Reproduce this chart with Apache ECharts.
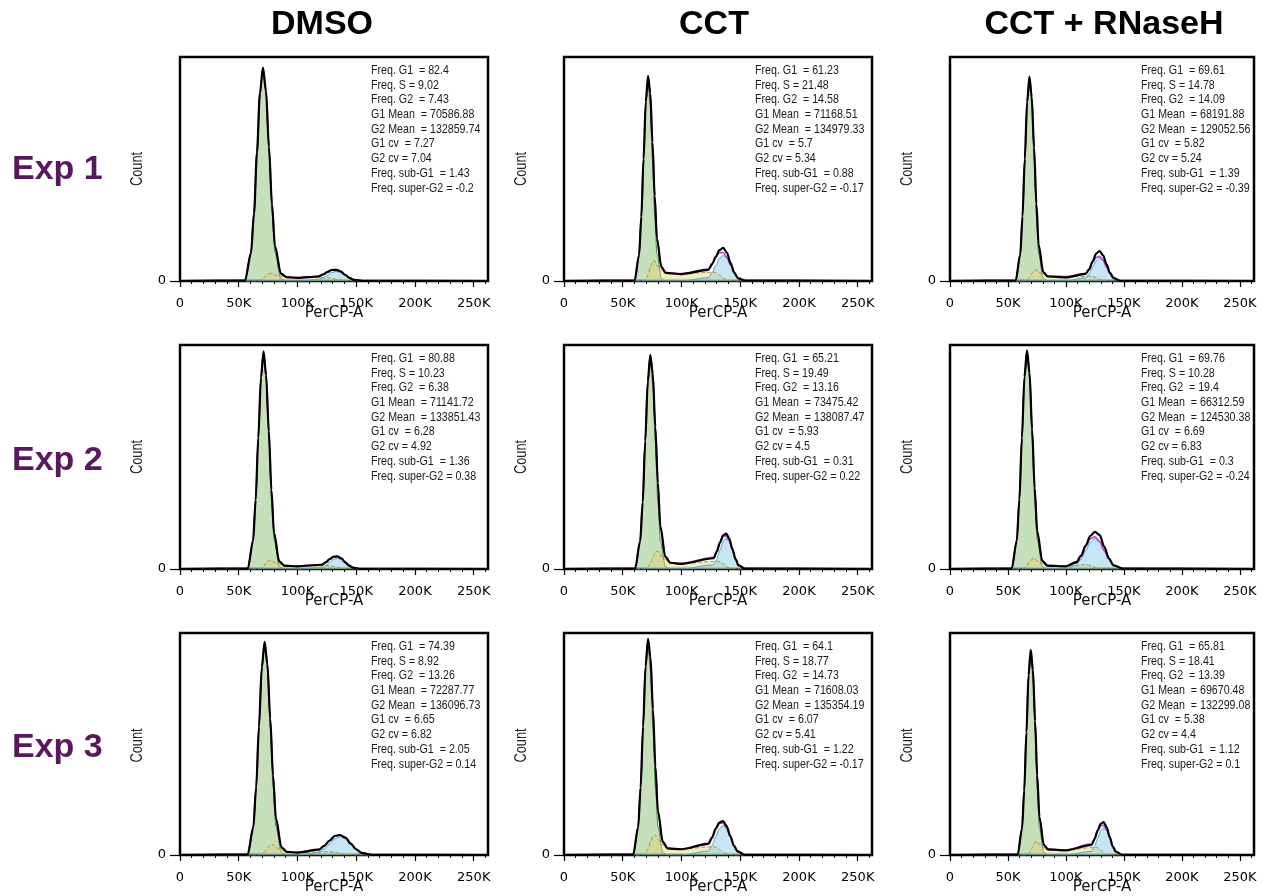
<!DOCTYPE html>
<html><head><meta charset="utf-8">
<script src="https://cdn.jsdelivr.net/npm/echarts@6/dist/echarts.min.js"></script>
<style>html,body{margin:0;padding:0;background:#fff}#c{width:1265px;height:896px}</style>
</head><body><div id="c"></div>
<script>
// ---------- labels ----------
const COL_TITLES = ['DMSO', 'CCT', 'CCT + RNaseH'];
const ROW_LABELS = ['Exp 1', 'Exp 2', 'Exp 3'];
const X_TICKS = [0, 50, 100, 150, 200, 250];   // PerCP-A, in K
const X_MAX = 262.144;
const STAT_NAMES = ['Freq. G1  = ', 'Freq. S = ', 'Freq. G2  = ', 'G1 Mean  = ', 'G2 Mean  = ', 'G1 cv  = ', 'G2 cv = ', 'Freq. sub-G1  = ', 'Freq. super-G2 = '];

// ---------- stats ----------
const STATS_R1C1 = ['82.4', '9.02', '7.43', '70586.88', '132859.74', '7.27', '7.04', '1.43', '-0.2'];
const STATS_R1C2 = ['61.23', '21.48', '14.58', '71168.51', '134979.33', '5.7', '5.34', '0.88', '-0.17'];
const STATS_R1C3 = ['69.61', '14.78', '14.09', '68191.88', '129052.56', '5.82', '5.24', '1.39', '-0.39'];
const STATS_R2C1 = ['80.88', '10.23', '6.38', '71141.72', '133851.43', '6.28', '4.92', '1.36', '0.38'];
const STATS_R2C2 = ['65.21', '19.49', '13.16', '73475.42', '138087.47', '5.93', '4.5', '0.31', '0.22'];
const STATS_R2C3 = ['69.76', '10.28', '19.4', '66312.59', '124530.38', '6.69', '6.83', '0.3', '-0.24'];
const STATS_R3C1 = ['74.39', '8.92', '13.26', '72287.77', '136096.73', '6.65', '6.82', '2.05', '0.14'];
const STATS_R3C2 = ['64.1', '18.77', '14.73', '71608.03', '135354.19', '6.07', '5.41', '1.22', '-0.17'];
const STATS_R3C3 = ['65.81', '18.41', '13.39', '69670.48', '132299.08', '5.38', '4.4', '1.12', '0.1'];

// ---------- histogram curves (x in K, y in % of panel height) ----------
const X_R1C1 = [0, 55.3, 60.4, 63.0, 65.5, 68.0, 70.6, 73.2, 75.7, 78.3, 80.8, 85.9, 91.0, 100, 117.9, 121.7, 125.4, 129.2, 132.9, 136.7, 140.4, 144.2, 147.9, 155.4, 262];
const G1_R1C1 = [0, 0.2, 12.7, 30.5, 57.0, 83.0, 94.0, 83.0, 57.0, 30.5, 12.7, 1.0, 0, 0, 0, 0, 0, 0, 0, 0, 0, 0, 0, 0, 0];
const S_R1C1 = [0, 0, 0, 0, 0, 0.4, 1.1, 2.3, 3.3, 3.5, 2.6, 2.1, 1.6, 1.5, 1.5, 1.5, 1.5, 1.2, 0.8, 0.4, 0.2, 0, 0, 0, 0];
const G2_R1C1 = [0, 0, 0, 0, 0, 0, 0, 0, 0, 0, 0, 0, 0, 0, 0.6, 1.4, 2.6, 3.8, 4.3, 3.8, 2.6, 1.4, 0.6, 0.1, 0];
const FIT_R1C1 = [0, 0.2, 12.7, 30.5, 57.0, 83.4, 95.1, 85.3, 60.3, 34.0, 15.3, 3.1, 1.6, 1.5, 2.1, 2.9, 4.1, 5.0, 5.1, 4.2, 2.8, 1.4, 0.6, 0.1, 0];
const DATA_R1C1 = [0, 0.2, 12.3, 30.2, 57.4, 83.9, 95.3, 85.0, 59.9, 34.3, 15.6, 3.3, 1.7, 1.4, 2.0, 2.9, 4.0, 4.9, 5.0, 4.3, 2.8, 1.4, 0.5, 0.1, 0];

const X_R1C2 = [0, 60.1, 63.9, 65.8, 67.7, 69.6, 71.5, 73.4, 75.3, 77.2, 79.1, 82.9, 86.7, 100, 122.9, 126.0, 129.2, 132.3, 135.5, 138.7, 141.8, 145.0, 148.1, 154.4, 262];
const G1_R1C2 = [0, 0.2, 12.0, 28.9, 54.0, 78.5, 89.0, 78.5, 54.0, 28.9, 12.0, 1.0, 0, 0, 0, 0, 0, 0, 0, 0, 0, 0, 0, 0, 0];
const S_R1C2 = [0, 0, 0, 0, 0, 0.9, 2.7, 5.9, 8.6, 9.0, 6.8, 5.0, 3.5, 3.3, 3.8, 4.0, 3.8, 2.6, 1.2, 0.5, 0.2, 0, 0, 0, 0];
const G2_R1C2 = [0, 0, 0, 0, 0, 0, 0, 0, 0, 0, 0, 0, 0, 0, 1.5, 3.7, 6.9, 10.1, 11.4, 10.1, 6.9, 3.7, 1.5, 0.1, 0];
const FIT_R1C2 = [0, 0.2, 12.0, 28.9, 54.0, 79.4, 91.7, 84.4, 62.6, 37.9, 18.8, 6.0, 3.5, 3.3, 5.3, 7.7, 10.7, 12.7, 12.6, 10.6, 7.1, 3.7, 1.5, 0.1, 0];
const DATA_R1C2 = [0, 0.2, 11.5, 28.5, 54.5, 80.0, 91.5, 84.0, 62.0, 38.0, 19.0, 6.2, 3.6, 3.1, 5.0, 7.5, 10.8, 13.8, 14.8, 12.6, 8.0, 3.6, 1.2, 0.2, 0];

const X_R1C3 = [0, 56.6, 60.6, 62.5, 64.5, 66.5, 68.5, 70.5, 72.5, 74.5, 76.4, 80.4, 84.4, 100, 117.0, 120.0, 123.0, 126.0, 129.0, 132.0, 135.0, 138.0, 141.0, 147.0, 262];
const G1_R1C3 = [0, 0.2, 12.1, 29.1, 54.3, 79.0, 89.5, 79.0, 54.3, 29.1, 12.1, 1.0, 0, 0, 0, 0, 0, 0, 0, 0, 0, 0, 0, 0, 0];
const S_R1C3 = [0, 0, 0, 0, 0, 0.5, 1.5, 3.3, 4.8, 5.0, 3.8, 2.9, 2.1, 2.0, 2.0, 2.2, 2.1, 1.5, 0.8, 0.3, 0.1, 0, 0, 0, 0];
const G2_R1C3 = [0, 0, 0, 0, 0, 0, 0, 0, 0, 0, 0, 0, 0, 0, 1.4, 3.3, 6.2, 9.0, 10.2, 9.0, 6.2, 3.3, 1.4, 0.1, 0];
const FIT_R1C3 = [0, 0.2, 12.1, 29.1, 54.3, 79.5, 91.0, 82.3, 59.1, 34.1, 15.9, 3.9, 2.1, 2.0, 3.4, 5.5, 8.3, 10.5, 11.0, 9.3, 6.3, 3.3, 1.4, 0.1, 0];
const DATA_R1C3 = [0, 0.2, 11.8, 28.8, 54.6, 80.0, 91.2, 82.0, 59.5, 34.5, 16.2, 4.0, 2.0, 1.6, 3.2, 5.2, 8.8, 12.2, 13.4, 11.5, 7.4, 3.6, 1.3, 0.1, 0];

const X_R2C1 = [0, 57.7, 62.2, 64.4, 66.6, 68.9, 71.1, 73.3, 75.6, 77.8, 80.0, 84.5, 89.0, 100, 120.8, 124.1, 127.4, 130.7, 134.0, 137.3, 140.6, 143.9, 147.2, 153.8, 262];
const G1_R2C1 = [0, 0.2, 13.0, 31.1, 58.1, 84.5, 95.8, 84.5, 58.1, 31.1, 13.0, 1.1, 0, 0, 0, 0, 0, 0, 0, 0, 0, 0, 0, 0, 0];
const S_R2C1 = [0, 0, 0, 0, 0, 0.4, 1.2, 2.6, 3.8, 4.0, 3.0, 2.1, 1.4, 1.3, 1.4, 1.5, 1.5, 1.2, 0.8, 0.4, 0.2, 0, 0, 0, 0];
const G2_R2C1 = [0, 0, 0, 0, 0, 0, 0, 0, 0, 0, 0, 0, 0, 0, 0.6, 1.6, 2.9, 4.2, 4.8, 4.2, 2.9, 1.6, 0.6, 0.1, 0];
const FIT_R2C1 = [0, 0.2, 13.0, 31.1, 58.1, 84.9, 97.0, 87.1, 61.9, 35.1, 16.0, 3.2, 1.4, 1.3, 2.0, 3.1, 4.4, 5.4, 5.6, 4.6, 3.1, 1.6, 0.6, 0.1, 0];
const DATA_R2C1 = [0, 0.2, 12.6, 30.8, 58.5, 85.5, 97.2, 86.5, 61.5, 35.4, 16.2, 3.4, 1.5, 1.2, 1.9, 3.0, 4.4, 5.5, 5.6, 4.7, 3.0, 1.5, 0.6, 0.1, 0];

const X_R2C2 = [0, 60.5, 64.8, 67.0, 69.1, 71.3, 73.4, 75.6, 77.7, 79.9, 82.0, 86.3, 90.6, 100, 127.4, 130.1, 132.7, 135.4, 138.0, 140.7, 143.3, 146.0, 148.6, 153.9, 262];
const G1_R2C2 = [0, 0.2, 12.6, 30.2, 56.5, 82.2, 93.1, 82.2, 56.5, 30.2, 12.6, 1.0, 0, 0, 0, 0, 0, 0, 0, 0, 0, 0, 0, 0, 0];
const S_R2C2 = [0, 0, 0, 0, 0, 0.8, 2.4, 5.2, 7.6, 8.0, 6.0, 4.2, 2.7, 2.5, 3.3, 3.5, 3.3, 2.3, 1.1, 0.5, 0.2, 0, 0, 0, 0];
const G2_R2C2 = [0, 0, 0, 0, 0, 0, 0, 0, 0, 0, 0, 0, 0, 0, 1.9, 4.5, 8.4, 12.2, 13.8, 12.2, 8.4, 4.5, 1.9, 0.2, 0];
const FIT_R2C2 = [0, 0.2, 12.6, 30.2, 56.5, 83.0, 95.5, 87.4, 64.1, 38.2, 18.6, 5.2, 2.7, 2.5, 5.2, 8.0, 11.7, 14.5, 14.9, 12.7, 8.6, 4.5, 1.9, 0.2, 0];
const DATA_R2C2 = [0, 0.2, 12.2, 29.8, 57.0, 83.5, 95.6, 87.0, 63.5, 38.5, 19.0, 5.4, 2.8, 2.3, 4.8, 7.8, 11.8, 15.0, 15.8, 13.6, 9.0, 4.4, 1.6, 0.2, 0];

const X_R2C3 = [0, 53.2, 57.6, 59.8, 62.0, 64.2, 66.4, 68.6, 70.8, 73.0, 75.2, 79.6, 84.0, 100, 109.0, 113.0, 117.0, 121.0, 125.0, 129.0, 133.0, 137.0, 141.0, 149.0, 262];
const G1_R2C3 = [0, 0.2, 13.0, 31.2, 58.3, 84.8, 96.1, 84.8, 58.3, 31.2, 13.0, 1.1, 0, 0, 0, 0, 0, 0, 0, 0, 0, 0, 0, 0, 0];
const S_R2C3 = [0, 0, 0, 0, 0, 0.5, 1.4, 3.1, 4.5, 4.7, 3.5, 2.3, 1.4, 1.3, 1.5, 1.8, 2.0, 1.5, 0.8, 0.3, 0.1, 0, 0, 0, 0];
const G2_R2C3 = [0, 0, 0, 0, 0, 0, 0, 0, 0, 0, 0, 0, 0, 0, 1.8, 4.4, 8.2, 12.0, 13.6, 12.0, 8.2, 4.4, 1.8, 0.2, 0];
const FIT_R2C3 = [0, 0.2, 13.0, 31.2, 58.3, 85.3, 97.5, 87.9, 62.8, 35.9, 16.5, 3.4, 1.4, 1.3, 3.3, 6.2, 10.2, 13.5, 14.4, 12.3, 8.3, 4.4, 1.8, 0.2, 0];
const DATA_R2C3 = [0, 0.2, 12.6, 30.8, 58.6, 85.8, 97.6, 87.5, 62.4, 36.2, 16.8, 3.6, 1.5, 1.2, 3.0, 5.8, 10.4, 14.8, 16.6, 15.2, 10.0, 4.8, 1.6, 0.2, 0];

const X_R3C1 = [0, 57.6, 62.4, 64.8, 67.2, 69.6, 72.0, 74.4, 76.8, 79.2, 81.6, 86.4, 91.2, 100, 118.3, 122.8, 127.3, 131.8, 136.3, 140.8, 145.3, 149.8, 154.3, 163.3, 262];
const G1_R3C1 = [0, 0.2, 12.8, 30.7, 57.3, 83.4, 94.5, 83.4, 57.3, 30.7, 12.8, 1.0, 0, 0, 0, 0, 0, 0, 0, 0, 0, 0, 0, 0, 0];
const S_R3C1 = [0, 0, 0, 0, 0, 0.5, 1.4, 3.1, 4.5, 4.7, 3.5, 2.2, 1.3, 1.2, 1.4, 1.5, 1.5, 1.2, 0.8, 0.4, 0.2, 0, 0, 0, 0];
const G2_R3C1 = [0, 0, 0, 0, 0, 0, 0, 0, 0, 0, 0, 0, 0, 0, 1.1, 2.7, 5.0, 7.3, 8.3, 7.3, 5.0, 2.7, 1.1, 0.1, 0];
const FIT_R3C1 = [0, 0.2, 12.8, 30.7, 57.3, 83.9, 95.9, 86.5, 61.8, 35.4, 16.3, 3.2, 1.3, 1.2, 2.5, 4.2, 6.5, 8.5, 9.1, 7.7, 5.2, 2.7, 1.1, 0.1, 0];
const DATA_R3C1 = [0, 0.2, 12.4, 30.4, 57.8, 84.5, 96.0, 86.0, 61.4, 35.8, 16.6, 3.4, 1.4, 1.1, 2.4, 4.1, 6.5, 8.6, 9.0, 7.8, 5.1, 2.6, 1.0, 0.1, 0];

const X_R3C2 = [0, 58.9, 63.1, 65.2, 67.3, 69.4, 71.5, 73.6, 75.7, 77.8, 79.9, 84.1, 88.3, 100, 122.9, 126.0, 129.1, 132.2, 135.3, 138.4, 141.5, 144.6, 147.7, 153.9, 262];
const G1_R3C2 = [0, 0.2, 12.8, 30.7, 57.4, 83.5, 94.6, 83.5, 57.4, 30.7, 12.8, 1.1, 0, 0, 0, 0, 0, 0, 0, 0, 0, 0, 0, 0, 0];
const S_R3C2 = [0, 0, 0, 0, 0, 0.9, 2.7, 5.9, 8.6, 9.0, 6.8, 4.6, 2.9, 2.7, 3.6, 3.8, 3.6, 2.5, 1.2, 0.5, 0.2, 0, 0, 0, 0];
const G2_R3C2 = [0, 0, 0, 0, 0, 0, 0, 0, 0, 0, 0, 0, 0, 0, 1.8, 4.3, 8.1, 11.7, 13.3, 11.7, 8.1, 4.3, 1.8, 0.1, 0];
const FIT_R3C2 = [0, 0.2, 12.8, 30.7, 57.4, 84.4, 97.3, 89.4, 66.0, 39.7, 19.6, 5.7, 2.9, 2.7, 5.4, 8.1, 11.7, 14.2, 14.5, 12.2, 8.3, 4.3, 1.8, 0.1, 0];
const DATA_R3C2 = [0, 0.2, 12.4, 30.3, 57.8, 85.0, 97.4, 89.0, 65.6, 40.0, 19.9, 5.9, 3.0, 2.6, 5.0, 7.8, 11.8, 14.6, 15.3, 13.0, 8.6, 4.2, 1.6, 0.1, 0];

const X_R3C3 = [0, 58.4, 62.1, 64.0, 65.9, 67.7, 69.6, 71.5, 73.4, 75.2, 77.1, 80.9, 84.6, 100, 122.1, 124.7, 127.3, 129.9, 132.5, 135.1, 137.7, 140.3, 142.9, 148.1, 262];
const G1_R3C3 = [0, 0.2, 12.2, 29.4, 54.8, 79.8, 90.4, 79.8, 54.8, 29.4, 12.2, 1.0, 0, 0, 0, 0, 0, 0, 0, 0, 0, 0, 0, 0, 0];
const S_R3C3 = [0, 0, 0, 0, 0, 0.6, 1.9, 4.0, 5.9, 6.2, 4.7, 3.4, 2.4, 2.2, 3.3, 3.5, 3.3, 2.3, 1.1, 0.5, 0.2, 0, 0, 0, 0];
const G2_R3C3 = [0, 0, 0, 0, 0, 0, 0, 0, 0, 0, 0, 0, 0, 0, 1.7, 4.0, 7.5, 10.9, 12.3, 10.9, 7.5, 4.0, 1.7, 0.1, 0];
const FIT_R3C3 = [0, 0.2, 12.2, 29.4, 54.8, 80.4, 92.3, 83.8, 60.7, 35.6, 16.9, 4.4, 2.4, 2.2, 5.0, 7.5, 10.8, 13.2, 13.4, 11.4, 7.7, 4.0, 1.7, 0.1, 0];
const DATA_R3C3 = [0, 0.2, 11.8, 29.0, 55.2, 81.0, 92.4, 83.4, 60.3, 35.9, 17.2, 4.6, 2.5, 2.1, 4.6, 7.2, 11.0, 14.0, 14.8, 12.6, 8.2, 3.9, 1.5, 0.1, 0];

const PANELS = [
  [X_R1C1, G1_R1C1, S_R1C1, G2_R1C1, FIT_R1C1, DATA_R1C1, STATS_R1C1],
  [X_R1C2, G1_R1C2, S_R1C2, G2_R1C2, FIT_R1C2, DATA_R1C2, STATS_R1C2],
  [X_R1C3, G1_R1C3, S_R1C3, G2_R1C3, FIT_R1C3, DATA_R1C3, STATS_R1C3],
  [X_R2C1, G1_R2C1, S_R2C1, G2_R2C1, FIT_R2C1, DATA_R2C1, STATS_R2C1],
  [X_R2C2, G1_R2C2, S_R2C2, G2_R2C2, FIT_R2C2, DATA_R2C2, STATS_R2C2],
  [X_R2C3, G1_R2C3, S_R2C3, G2_R2C3, FIT_R2C3, DATA_R2C3, STATS_R2C3],
  [X_R3C1, G1_R3C1, S_R3C1, G2_R3C1, FIT_R3C1, DATA_R3C1, STATS_R3C1],
  [X_R3C2, G1_R3C2, S_R3C2, G2_R3C2, FIT_R3C2, DATA_R3C2, STATS_R3C2],
  [X_R3C3, G1_R3C3, S_R3C3, G2_R3C3, FIT_R3C3, DATA_R3C3, STATS_R3C3]
];

// ---------- layout ----------
const COLS = [{ l: 180, w: 308 }, { l: 564, w: 308 }, { l: 950, w: 304 }];
const ROWS = [{ t: 57, h: 224 }, { t: 345, h: 224 }, { t: 633, h: 225 }];
const TITLE_X = [322, 714, 1104];
const ROW_Y = [170, 461, 748];
const SANS = "'Liberation Sans', Arial, sans-serif";
const AXISFONT = "'DejaVu Sans', Verdana, sans-serif";

const zip = (xs, ys) => xs.map((x, k) => [x, ys[k]]);
const grid = [], xAxis = [], yAxis = [], series = [], graphic = [];

PANELS.forEach((p, i) => {
  const r = Math.floor(i / 3), c = i % 3;
  const [xs, g1, s, g2, fit, dat, stats] = p;
  grid.push({ left: COLS[c].l, top: ROWS[r].t, width: COLS[c].w, height: ROWS[r].h,
    show: true, borderColor: '#000', borderWidth: 2.5, backgroundColor: '#fff', containLabel: false });
  xAxis.push({ gridIndex: i, type: 'value', min: 0, max: X_MAX, interval: 50,
    axisLine: { show: true, onZero: false, lineStyle: { color: '#000', width: 2 } },
    axisTick: { show: true, customValues: X_TICKS, length: 6, lineStyle: { color: '#000', width: 1.2 } },
    minorTick: { show: true, splitNumber: 5, length: 3, lineStyle: { color: '#000', width: 1 } },
    axisLabel: { customValues: X_TICKS, formatter: v => v === 0 ? '0' : v + 'K', margin: 16,
      fontFamily: AXISFONT, fontSize: 13, color: '#000' },
    splitLine: { show: false }, minorSplitLine: { show: false },
    name: 'PerCP-A', nameLocation: 'middle', nameGap: 25, nameMoveOverlap: false,
    nameTextStyle: { fontFamily: AXISFONT, fontSize: 15, color: '#111' } });
  yAxis.push({ gridIndex: i, type: 'value', min: 0, max: 100, interval: 100,
    axisLine: { show: false },
    axisTick: { show: true, customValues: [0], length: 10, lineStyle: { color: '#000', width: 1.2 } },
    axisLabel: { customValues: [0], formatter: () => '0', margin: 14, fontFamily: AXISFONT, fontSize: 13,
      color: '#000', padding: [0, 0, 7, 0] },
    splitLine: { show: false } });
  const base = { type: 'line', xAxisIndex: i, yAxisIndex: i, symbol: 'none', silent: true, animation: false,
    smooth: 0.3, smoothMonotone: 'x' };
  series.push(Object.assign({}, base, { data: zip(xs, g1), z: 2,
    lineStyle: { color: '#3f8a3a', width: 1 }, areaStyle: { color: 'rgba(110,175,80,0.55)' } }));
  series.push(Object.assign({}, base, { data: zip(xs, s), z: 3,
    lineStyle: { color: '#a89040', width: 1, type: 'dashed' }, areaStyle: { color: 'rgba(228,205,95,0.55)' } }));
  series.push(Object.assign({}, base, { data: zip(xs, g2), z: 3,
    lineStyle: { color: '#5a9fcc', width: 1 }, areaStyle: { color: 'rgba(120,195,230,0.6)' } }));
  series.push(Object.assign({}, base, { data: zip(xs, fit), z: 4,
    lineStyle: { color: '#c23bc4', width: 1.6 } }));
  series.push(Object.assign({}, base, { data: zip(xs, dat), z: 5,
    lineStyle: { color: '#000', width: 2.2 } }));
  // stats block (condensed look via horizontal scale)
  graphic.push({ type: 'text', x: COLS[c].l + 191, y: ROWS[r].t + 6, scaleX: 0.82, z: 10, silent: true,
    style: { text: STAT_NAMES.map((n, k) => n + stats[k]).join('\n'), font: '13px ' + SANS,
      fill: '#1a1a1a', lineHeight: 14.7, align: 'left', verticalAlign: 'top' } });
  // y axis name
  graphic.push({ type: 'text', x: COLS[c].l - 42, y: ROWS[r].t + ROWS[r].h / 2, rotation: Math.PI / 2, scaleX: 0.8, silent: true,
    style: { text: 'Count', font: '16px ' + SANS, fill: '#222', align: 'center', verticalAlign: 'middle' } });
});

COL_TITLES.forEach((t, c) => graphic.push({ type: 'text', x: TITLE_X[c], y: 25, silent: true,
  style: { text: t, font: 'bold 34px ' + SANS, fill: '#000', align: 'center', verticalAlign: 'middle' } }));
ROW_LABELS.forEach((t, r) => graphic.push({ type: 'text', x: 12, y: ROW_Y[r], silent: true,
  style: { text: t, font: 'bold 34px ' + SANS, fill: '#5a175d', align: 'left', verticalAlign: 'middle' } }));

const chart = echarts.init(document.getElementById('c'), null, { renderer: 'canvas', width: 1265, height: 896 });
chart.setOption({ animation: false, backgroundColor: '#fff', grid, xAxis, yAxis, series, graphic });
</script>
</body></html>
